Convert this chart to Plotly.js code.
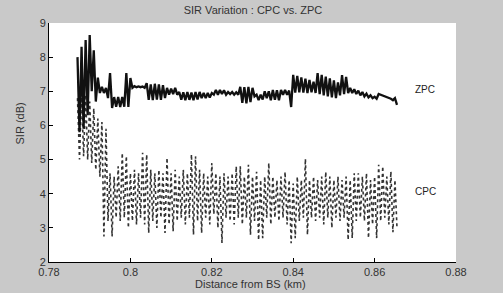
<!DOCTYPE html>
<html>
<head>
<meta charset="utf-8">
<script src="https://cdn.plot.ly/plotly-3.0.1.min.js"></script>
<style>
html,body{margin:0;padding:0;background:#c9c9c9;}
#chart{width:503px;height:293px;}
</style>
</head>
<body>
<div id="chart"></div>
<script>
// Distance from BS (km), sample positions
const distance = [
0.7870,0.7875,0.7880,0.7885,0.7890,0.7895,0.7900,0.7905,0.7910,0.7915,
0.7920,0.7925,0.7930,0.7935,0.7940,0.7945,0.7950,0.7955,0.7960,0.7965,
0.7970,0.7975,0.7980,0.7985,0.7990,0.7995,0.8000,0.8005,0.8010,0.8015,
0.8020,0.8025,0.8030,0.8035,0.8040,0.8045,0.8050,0.8055,0.8060,0.8065,
0.8070,0.8075,0.8080,0.8085,0.8090,0.8095,0.8100,0.8105,0.8110,0.8115,
0.8120,0.8125,0.8130,0.8135,0.8140,0.8145,0.8150,0.8155,0.8160,0.8165,
0.8170,0.8175,0.8180,0.8185,0.8190,0.8195,0.8200,0.8205,0.8210,0.8215,
0.8220,0.8225,0.8230,0.8235,0.8240,0.8245,0.8250,0.8255,0.8260,0.8265,
0.8270,0.8275,0.8280,0.8285,0.8290,0.8295,0.8300,0.8305,0.8310,0.8315,
0.8320,0.8325,0.8330,0.8335,0.8340,0.8345,0.8350,0.8355,0.8360,0.8365,
0.8370,0.8375,0.8380,0.8385,0.8390,0.8395,0.8400,0.8405,0.8410,0.8415,
0.8420,0.8425,0.8430,0.8435,0.8440,0.8445,0.8450,0.8455,0.8460,0.8465,
0.8470,0.8475,0.8480,0.8485,0.8490,0.8495,0.8500,0.8505,0.8510,0.8515,
0.8520,0.8525,0.8530,0.8535,0.8540,0.8545,0.8550,0.8555,0.8560,0.8565,
0.8570,0.8575,0.8580,0.8585,0.8590,0.8595,0.8600,0.8605,0.8610,0.8615,
0.8620,0.8625,0.8630,0.8635,0.8640,0.8645,0.8650,0.8655
];

// SIR (dB) with ZPC
const sirZPC = [
8.0,5.8,8.3,5.9,8.5,6.3,8.65,7.0,8.2,6.7,
7.4,6.95,7.13,6.95,7.1,6.8,7.53,6.51,6.83,6.55,
6.83,6.54,6.83,6.55,7.53,6.54,7.39,7.1,7.15,7.12,
7.14,7.12,7.14,7.1,7.24,6.75,7.2,6.74,7.22,6.76,
7.2,6.75,7.18,6.8,7.1,6.9,7.08,6.92,7.1,6.9,
6.98,6.75,6.97,6.74,6.98,6.75,6.96,6.74,6.98,6.76,
6.98,6.8,6.95,6.8,6.95,6.82,6.95,6.9,7.04,6.9,
7.04,6.92,7.03,6.9,6.98,6.92,6.98,6.9,6.97,6.9,
7.13,6.66,7.12,6.65,7.13,6.68,7.1,6.85,6.9,6.74,
6.9,6.76,7.0,6.8,7.0,6.74,7.04,6.75,7.03,6.74,
7.04,6.9,7.04,6.9,7.02,6.54,7.48,6.96,7.45,6.97,
7.41,6.96,7.37,6.95,7.33,6.97,7.28,6.95,7.53,6.92,
7.48,6.88,7.43,6.85,7.38,6.82,7.32,6.8,7.26,6.88,
7.47,6.92,7.42,6.95,7.1,6.95,7.06,6.92,7.02,6.88,
6.98,6.85,6.93,6.82,6.88,6.8,6.84,6.78,6.92,6.9,
6.88,6.86,6.84,6.82,6.78,6.74,6.8,6.6
];

// SIR (dB) with CPC
const sirCPC = [
6.8,5.0,7.0,5.1,6.9,5.0,6.7,4.9,6.5,4.7,
6.2,4.5,6.1,2.75,5.9,3.2,4.6,2.75,4.5,3.3,
4.8,3.2,5.19,3.3,5.1,3.0,4.6,3.2,4.7,3.1,
4.6,3.3,5.2,3.1,5.15,2.85,4.7,3.2,4.6,3.0,
4.7,3.3,4.6,2.85,5.05,3.1,4.6,2.9,4.7,3.2,
4.5,3.3,4.7,3.1,4.6,3.3,5.15,2.8,5.1,3.2,
4.7,2.85,4.6,3.3,4.5,3.1,4.9,3.4,4.6,3.0,
4.5,2.56,4.6,3.3,4.5,3.2,4.6,3.1,4.8,3.3,
4.8,3.1,4.5,3.3,4.85,2.8,4.5,3.2,4.64,2.64,
4.4,2.7,4.5,3.3,4.9,3.1,4.5,3.3,4.4,3.2,
4.5,3.3,4.64,3.1,4.4,2.55,4.3,2.7,4.5,3.2,
4.4,3.3,5.02,2.8,4.4,3.3,4.5,3.2,4.4,3.3,
4.5,3.1,4.64,3.3,4.5,3.0,4.4,3.3,4.5,3.2,
4.4,3.3,4.5,2.65,4.4,2.7,4.6,3.2,4.6,3.3,
4.5,3.2,4.6,2.7,4.4,3.1,4.5,2.7,4.85,3.2,
4.8,3.3,4.5,3.1,4.65,2.87,4.4,3.0
];

const seriesNames = ['CPC', 'ZPC'];
const xTicks = [0.78, 0.8, 0.82, 0.84, 0.86, 0.88];
const xTickLabels = ['0.78', '0.8', '0.82', '0.84', '0.86', '0.88'];
const yTicks = [2, 3, 4, 5, 6, 7, 8, 9];

const traces = [
  {x: distance, y: sirCPC, type: 'scatter', mode: 'lines', name: seriesNames[0],
   line: {color: '#333333', width: 1.6, dash: 'dot'}, hoverinfo: 'skip'},
  {x: distance, y: sirZPC, type: 'scatter', mode: 'lines', name: seriesNames[1],
   line: {color: '#111111', width: 2.3}, hoverinfo: 'skip'}
];

const fontFam = 'Liberation Sans, Arial, sans-serif';
const axisCommon = {
  showgrid: false, zeroline: false, showline: true, linecolor: '#000', linewidth: 1,
  ticks: 'inside', ticklen: 4, tickcolor: '#000', tickwidth: 1,
  tickfont: {family: fontFam, size: 11, color: '#333'}, mirror: false
};

const layout = {
  width: 503, height: 293,
  paper_bgcolor: '#c9c9c9', plot_bgcolor: '#ffffff',
  margin: {l: 49, r: 47, t: 23, b: 31, pad: 0},
  showlegend: false,
  title: {text: 'SIR Variation : CPC vs. ZPC', x: 0.503, xref: 'container', xanchor: 'center',
          y: 0.966, yref: 'container', yanchor: 'middle',
          font: {family: fontFam, size: 11, color: '#333'}},
  xaxis: Object.assign({}, axisCommon, {range: [0.78, 0.88], tickvals: xTicks, ticktext: xTickLabels}),
  yaxis: Object.assign({}, axisCommon, {range: [2, 9], tickvals: yTicks}),
  annotations: [
    {text: 'ZPC', x: 0.8694, y: 7.05, xref: 'x', yref: 'y', xanchor: 'left', yanchor: 'middle',
     showarrow: false, font: {family: fontFam, size: 10, color: '#222'}},
    {text: 'CPC', x: 0.8694, y: 4.07, xref: 'x', yref: 'y', xanchor: 'left', yanchor: 'middle',
     showarrow: false, font: {family: fontFam, size: 10, color: '#222'}},
    {text: 'SIR (dB)', x: -0.071, y: 0.58, xref: 'paper', yref: 'paper', xanchor: 'center', yanchor: 'middle',
     textangle: -90, showarrow: false, font: {family: fontFam, size: 11, color: '#333'}},
    {text: 'Distance from BS (km)', x: 0.496, y: -0.09, xref: 'paper', yref: 'paper', xanchor: 'center', yanchor: 'middle',
     showarrow: false, font: {family: fontFam, size: 11, color: '#333'}}
  ]
};

Plotly.newPlot('chart', traces, layout, {staticPlot: true, displayModeBar: false});
</script>
</body>
</html>
